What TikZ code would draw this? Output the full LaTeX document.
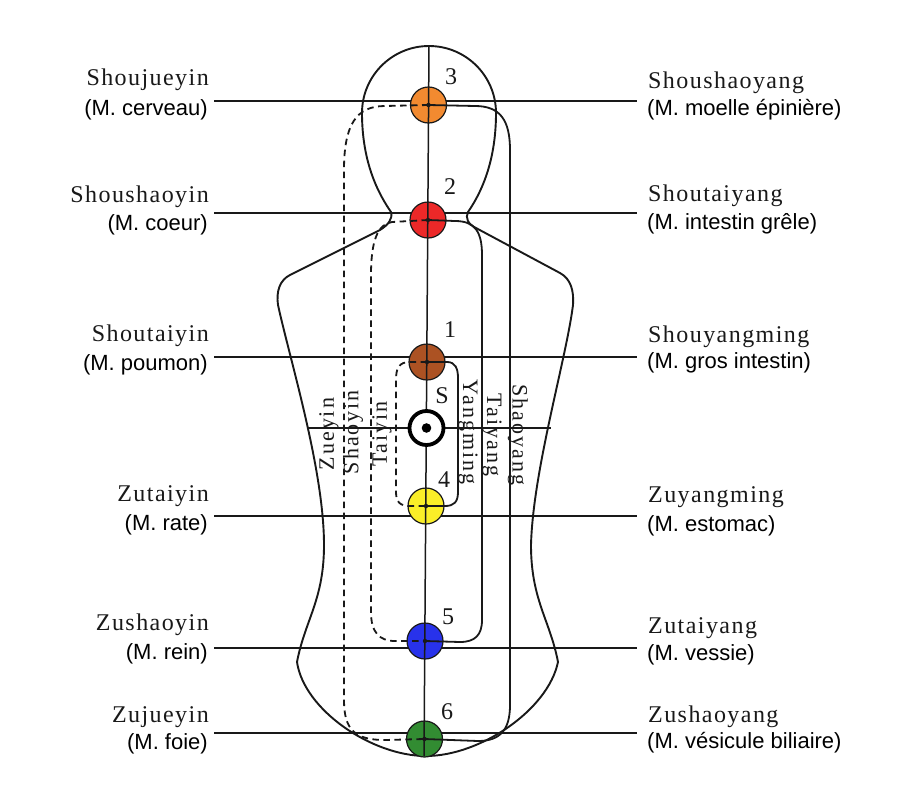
\documentclass[tikz,border=0pt]{standalone}
\usepackage{fontspec}
\setmainfont{Liberation Serif}
\newfontfamily\namefont[LetterSpace=6]{Liberation Serif}
\newfontfamily\chanfont[LetterSpace=9]{Liberation Serif}
\newfontfamily\subfont{Liberation Sans}
\definecolor{cOrange}{RGB}{242,138,48}
\definecolor{cRed}{RGB}{236,40,40}
\definecolor{cBrown}{RGB}{172,82,35}
\definecolor{cYellow}{RGB}{250,238,40}
\definecolor{cBlue}{RGB}{40,50,235}
\definecolor{cGreen}{RGB}{50,140,50}
\definecolor{ink}{RGB}{25,25,25}
\tikzset{
  bodyline/.style={draw=ink, line width=1.9pt},
  rowline/.style={draw=ink, line width=1.5pt},
  yangch/.style={draw=ink, line width=1.8pt},
  yinch/.style={draw=ink, line width=1.8pt, dash pattern=on 6.5pt off 4.5pt},
  point/.style={circle, draw=ink, line width=1.2pt, minimum size=36pt, inner sep=0pt},
  namel/.style={font=\namefont\fontsize{24}{26}\selectfont, text=ink, inner sep=0pt},
  subl/.style={font=\subfont\fontsize{22}{24}\selectfont, text=black, inner sep=0pt},
  chan/.style={font=\chanfont\fontsize{22}{24}\selectfont, text=ink, inner sep=0pt},
  numl/.style={font=\fontsize{24}{26}\selectfont, text=ink, inner sep=0pt},
}
\begin{document}
\begin{tikzpicture}[x=1pt,y=-1pt]
\useasboundingbox (0,0) rectangle (900,798);
\fill[white] (0,0) rectangle (900,798);

% body outline
\draw[bodyline] (391,212)
 .. controls (380,196) and (362,165) .. (362,113)
 arc[start angle=180, end angle=360, radius=67]
 .. controls (496,165) and (479,196) .. (468,212)
 .. controls (465,218) and (468,224) .. (476,228)
 -- (560,273)
 .. controls (571,279) and (574,291) .. (573,305)
 .. controls (566,360) and (533,470) .. (531,545)
 .. controls (531,600) and (550,620) .. (558,662)
 .. controls (548,710) and (480,756) .. (426,756)
 .. controls (372,756) and (304,710) .. (297,662)
 .. controls (305,620) and (324,600) .. (324,545)
 .. controls (324,470) and (290,360) .. (278,305)
 .. controls (276,291) and (280,280) .. (290,275)
 -- (380,230)
 .. controls (388,225) and (393,219) .. (391,212) -- cycle;

% row lines
\coordinate (L3) at (214,101); \coordinate (R3) at (637,101);
\coordinate (L2) at (214,213); \coordinate (R2) at (637,213);
\coordinate (L1) at (214,357); \coordinate (R1) at (637,357);
\coordinate (LS) at (308,428); \coordinate (RS) at (551,428);
\coordinate (L4) at (214,516); \coordinate (R4) at (637,516);
\coordinate (L5) at (214,648); \coordinate (R5) at (637,648);
\coordinate (L6) at (214,733); \coordinate (R6) at (637,733);
\foreach \r in {3,2,1,S,4,5,6} { \draw[rowline] (L\r) -- (R\r); }

% points
\node[point, fill=cOrange] (p3) at (428.5,105) {};
\node[point, fill=cRed]    (p2) at (428,220) {};
\node[point, fill=cBrown]  (p1) at (427,362) {};
\node[point, fill=cYellow] (p4) at (426,506) {};
\node[point, fill=cBlue]   (p5) at (425,641) {};
\node[point, fill=cGreen]  (p6) at (424.5,739) {};

% centre line
\coordinate (top) at (429,46);
\coordinate (bot) at (424,756);
\draw[rowline] (top) -- (bot);

% yin channels (dashed)
\draw[yinch] (p3.center) -- (385,106) .. controls (356,106) and (344,125) .. (344,170)
  -- (344,700) .. controls (344,730) and (355,740) .. (385,740) -- (p6.center);
\draw[yinch] (p2.center) -- (392,222) .. controls (378,224) and (371,240) .. (371,275)
  -- (371,612) .. controls (371,632) and (379,641) .. (395,641) -- (p5.center);
\draw[yinch] (p1.center) -- (410,362) .. controls (399,362) and (396,368) .. (396,380)
  -- (396,492) .. controls (396,502) and (400,506) .. (410,506) -- (p4.center);

% yang channels (solid)
\draw[yangch] (p1.center) -- (447,362) .. controls (455,362) and (458,368) .. (458,378)
  -- (458,492) .. controls (458,502) and (454,506) .. (445,506) -- (p4.center);
\draw[yangch] (p2.center) -- (455,221) .. controls (475,221) and (482,232) .. (482,255)
  -- (482,620) .. controls (482,635) and (475,642) .. (460,642) -- (p5.center);
\draw[yangch] (p3.center) -- (475,106) .. controls (500,106) and (510,120) .. (510,150)
  -- (510,705) .. controls (510,730) and (500,741) .. (478,741) -- (p6.center);

% centre dots
\foreach \p in {p3,p2,p1,p4,p5,p6} { \fill[ink] (\p.center) circle[radius=2.2]; }

% S point
\node[circle, draw=black, line width=3.8pt, fill=white, minimum size=34pt, inner sep=0pt] (ps) at (426.5,428) {};
\fill[black] (ps.center) circle[radius=4.8];

% numbers
\node[numl] (n3) at (451,77) {3};
\node[numl] (n2) at (450,187) {2};
\node[numl] (n1) at (450,330) {1};
\node[numl] (nS) at (442,396) {S};
\node[numl] (n4) at (444,480) {4};
\node[numl] (n5) at (448,617) {5};
\node[numl] (n6) at (447,712) {6};

% channel names
\node[chan, rotate=90]  (tZ) at (329,434) {Zueyin};
\node[chan, rotate=90]  (tS) at (353,432) {Shaoyin};
\node[chan, rotate=90]  (tT) at (382,434) {Taiyin};
\node[chan, rotate=-90] (tY) at (468,432) {Yangming};
\node[chan, rotate=-90] (tTy) at (492,435) {Taiyang};
\node[chan, rotate=-90] (tSy) at (518,435) {Shaoyang};

% left labels
\node[namel, anchor=east] (a3) at (209,80) {Shoujueyin};
\node[subl, anchor=east]  (b3) at (208,110) {(M. cerveau)};
\node[namel, anchor=east] (a2) at (209,197) {Shoushaoyin};
\node[subl, anchor=east]  (b2) at (208,225) {(M. coeur)};
\node[namel, anchor=east] (a1) at (209,336) {Shoutaiyin};
\node[subl, anchor=east]  (b1) at (208,365) {(M. poumon)};
\node[namel, anchor=east] (a4) at (209,496) {Zutaiyin};
\node[subl, anchor=east]  (b4) at (208,525) {(M. rate)};
\node[namel, anchor=east] (a5) at (209,625) {Zushaoyin};
\node[subl, anchor=east]  (b5) at (208,654) {(M. rein)};
\node[namel, anchor=east] (a6) at (209,717) {Zujueyin};
\node[subl, anchor=east]  (b6) at (208,744) {(M. foie)};

% right labels
\node[namel, anchor=west] (c3) at (648,83) {Shoushaoyang};
\node[subl, anchor=west]  (d3) at (647,110) {(M. moelle épinière)};
\node[namel, anchor=west] (c2) at (648,196) {Shoutaiyang};
\node[subl, anchor=west]  (d2) at (647,224) {(M. intestin grêle)};
\node[namel, anchor=west] (c1) at (648,337) {Shouyangming};
\node[subl, anchor=west]  (d1) at (647,363) {(M. gros intestin)};
\node[namel, anchor=west] (c4) at (648,497) {Zuyangming};
\node[subl, anchor=west]  (d4) at (647,526) {(M. estomac)};
\node[namel, anchor=west] (c5) at (648,628) {Zutaiyang};
\node[subl, anchor=west]  (d5) at (647,655) {(M. vessie)};
\node[namel, anchor=west] (c6) at (648,717) {Zushaoyang};
\node[subl, anchor=west]  (d6) at (647,743) {(M. vésicule biliaire)};
\end{tikzpicture}
\end{document}
